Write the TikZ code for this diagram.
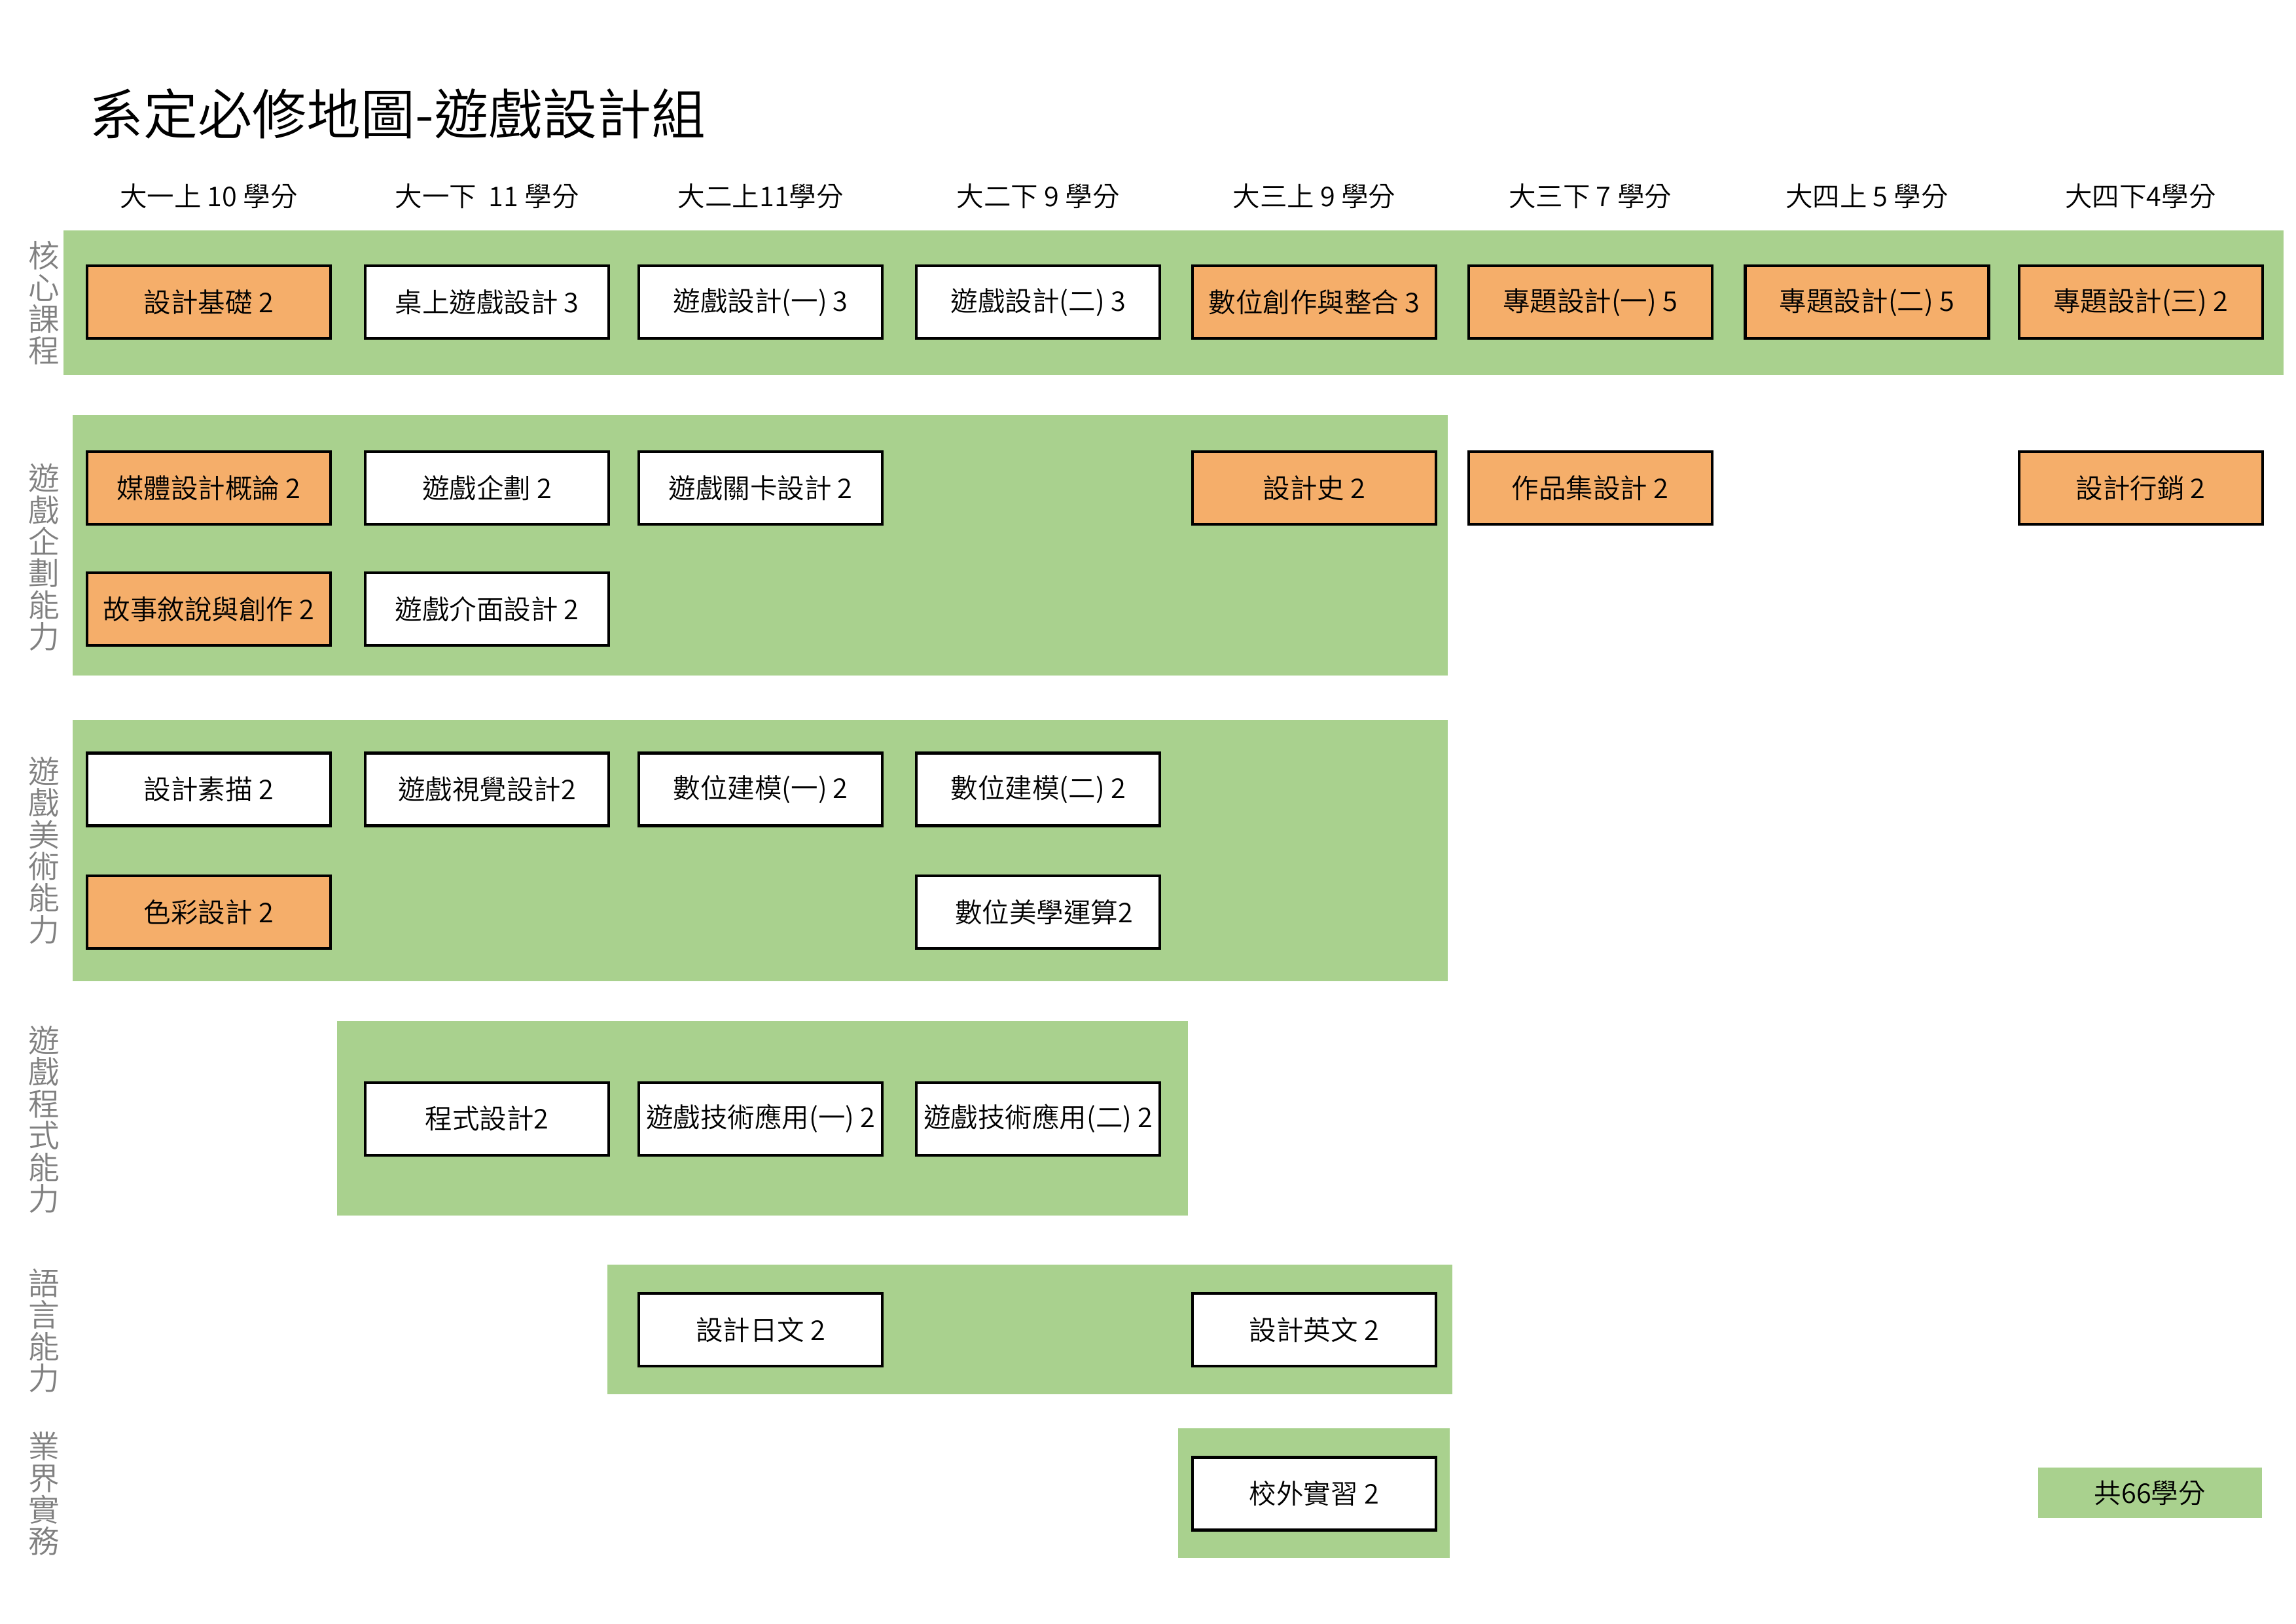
\documentclass[tikz,border=0pt]{standalone}
\usepackage{fontspec}
\setmainfont{Noto Sans CJK TC}[UprightFont=* DemiLight]
\usepackage{tikz}
\usepackage{xcolor}
\definecolor{bandgreen}{RGB}{169,209,142}
\definecolor{courseorange}{RGB}{245,174,106}
\definecolor{sidegray}{RGB}{128,128,128}
\tikzset{
  course/.style={draw, rectangle, line width=1pt, minimum width=3.15cm, minimum height=0.94cm, inner sep=1pt, fill=white, font=\fontsize{10pt}{12pt}\selectfont},
  highlight/.style={course, fill=courseorange},
  band/.style={fill=bandgreen},
  header/.style={inner sep=0pt, font=\fontsize{10pt}{12pt}\selectfont},
  sidelabel/.style={align=center, inner sep=0pt, text=sidegray, font=\fontsize{11.5pt}{11.65pt}\selectfont},
  total/.style={rectangle, fill=bandgreen, minimum width=2.9cm, minimum height=0.65cm, inner sep=0pt, font=\fontsize{10pt}{12pt}\selectfont}
}
\begin{document}
\begin{tikzpicture}
  \useasboundingbox (0,0) rectangle (29.7,-21.0);
  % green bands
  \fill[band] (0.82,-2.98) rectangle (29.54,-4.85);
  \fill[band] (0.94,-5.37) rectangle (18.73,-8.74);
  \fill[band] (0.94,-9.31) rectangle (18.73,-12.69);
  \fill[band] (4.36,-13.21) rectangle (15.37,-15.72);
  \fill[band] (7.86,-16.36) rectangle (18.79,-18.03);
  \fill[band] (15.24,-18.47) rectangle (18.75,-20.15);

  \node[anchor=west, inner sep=0pt, font=\fontsize{20pt}{24pt}\selectfont] (title) at (1.15,-1.47) {系定必修地圖-遊戲設計組};

  % semesters
  \node[header] (sem1) at (2.70,-2.54) {大一上 10 學分};
  \node[header] (sem2) at (6.30,-2.54) {大一下\ \ 11 學分};
  \node[header] (sem3) at (9.84,-2.54) {大二上11學分};
  \node[header] (sem4) at (13.43,-2.54) {大二下 9 學分};
  \node[header] (sem5) at (17.00,-2.54) {大三上 9 學分};
  \node[header] (sem6) at (20.57,-2.54) {大三下 7 學分};
  \node[header] (sem7) at (24.15,-2.54) {大四上 5 學分};
  \node[header] (sem8) at (27.69,-2.54) {大四下4學分};

  % side labels
  \node[sidelabel] (lab-core) at (0.57,-3.92) {核\\心\\課\\程};
  \node[sidelabel] (lab-plan) at (0.57,-7.21) {遊\\戲\\企\\劃\\能\\力};
  \node[sidelabel] (lab-art) at (0.57,-11.00) {遊\\戲\\美\\術\\能\\力};
  \node[sidelabel] (lab-prog) at (0.57,-14.48) {遊\\戲\\程\\式\\能\\力};
  \node[sidelabel] (lab-lang) at (0.57,-17.21) {語\\言\\能\\力};
  \node[sidelabel] (lab-work) at (0.57,-19.32) {業\\界\\實\\務};

  % core courses
  \node[highlight] (core1) at (2.70,-3.91) {設計基礎 2};
  \node[course] (core2) at (6.30,-3.91) {桌上遊戲設計 3};
  \node[course] (core3) at (9.84,-3.91) {遊戲設計(一) 3};
  \node[course] (core4) at (13.43,-3.91) {遊戲設計(二) 3};
  \node[highlight] (core5) at (17.00,-3.91) {數位創作與整合 3};
  \node[highlight] (core6) at (20.57,-3.91) {專題設計(一) 5};
  \node[highlight] (core7) at (24.15,-3.91) {\raisebox{-0.6mm}{專題設計(二) 5}};
  \node[highlight] (core8) at (27.69,-3.91) {專題設計(三) 2};

  % planning
  \node[highlight] (plan1) at (2.70,-6.31) {媒體設計概論 2};
  \node[course] (plan2) at (6.30,-6.31) {遊戲企劃 2};
  \node[course] (plan3) at (9.84,-6.31) {遊戲關卡設計 2};
  \node[highlight] (plan4) at (17.00,-6.31) {設計史 2};
  \node[highlight] (plan5) at (20.57,-6.31) {作品集設計 2};
  \node[highlight] (plan6) at (27.69,-6.31) {設計行銷 2};
  \node[highlight] (plan7) at (2.70,-7.88) {\raisebox{-0.4mm}{故事敘說與創作 2}};
  \node[course] (plan8) at (6.30,-7.88) {遊戲介面設計 2};

  % art
  \node[course] (art1) at (2.70,-10.21) {設計素描 2};
  \node[course] (art2) at (6.30,-10.21) {遊戲視覺設計2};
  \node[course] (art3) at (9.84,-10.21) {數位建模(一) 2};
  \node[course] (art4) at (13.43,-10.21) {數位建模(二) 2};
  \node[highlight] (art5) at (2.70,-11.80) {色彩設計 2};
  \node[course] (art6) at (13.43,-11.80) {\hspace{1.5mm}數位美學運算2};

  % programming
  \node[course] (prog1) at (6.30,-14.47) {程式設計2};
  \node[course] (prog2) at (9.84,-14.47) {遊戲技術應用(一) 2};
  \node[course] (prog3) at (13.43,-14.47) {遊戲技術應用(二) 2};

  % language
  \node[course] (lang1) at (9.84,-17.20) {設計日文 2};
  \node[course] (lang2) at (17.00,-17.20) {設計英文 2};

  % internship
  \node[course] (work1) at (17.00,-19.32) {校外實習 2};

  \node[total] (total) at (27.81,-19.31) {共66學分};
\end{tikzpicture}
\end{document}
